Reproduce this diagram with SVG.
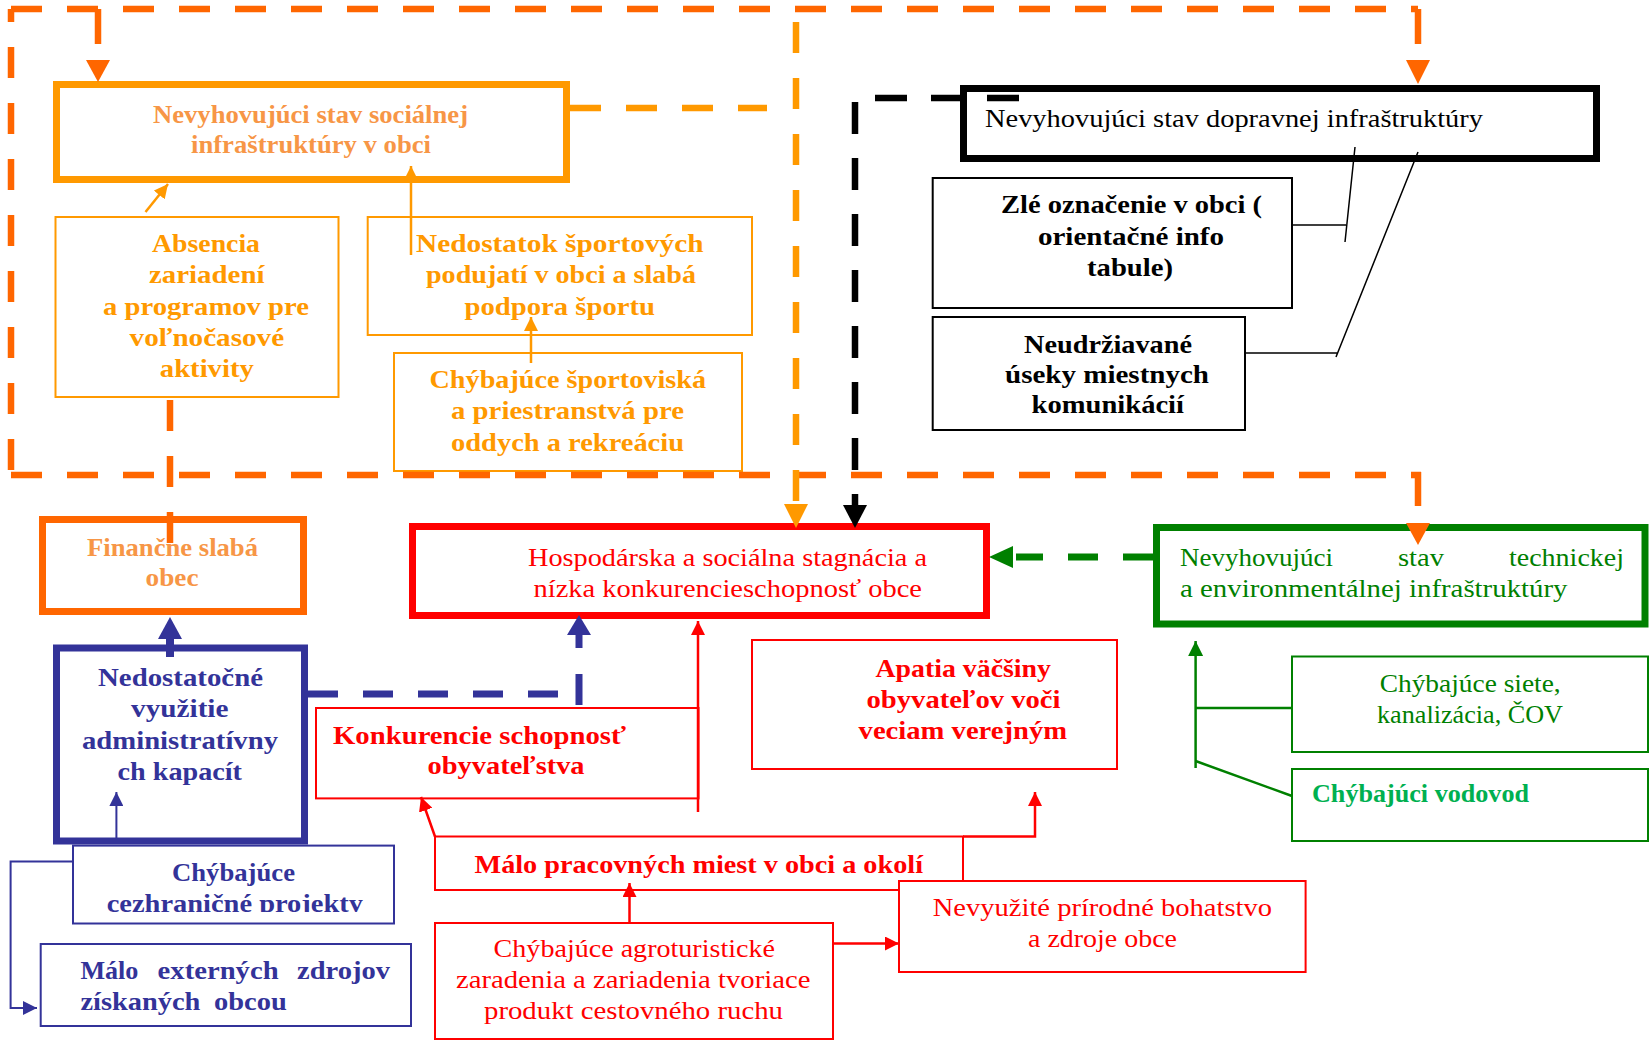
<svg xmlns="http://www.w3.org/2000/svg" width="1650" height="1040" viewBox="0 0 1650 1040">
<style>
text{font-family:'Liberation Serif','Times New Roman',serif;font-size:25px}
.b{font-weight:bold}
rect{fill:#ffffff}
.k7{stroke-width:7}
.k2{stroke-width:2}
.sO{stroke:#FF6600}
.sL{stroke:#FF9900}
.sR{stroke:#FF0000}
.sG{stroke:#008000}
.sB{stroke:#333399}
.sK{stroke:#000000}
.fS{fill:#F79646}
.fL{fill:#FF9900}
.fR{fill:#FF0000}
.fG{fill:#008000}
.fV{fill:#00B050}
.fB{fill:#333399}
.fK{fill:#000000}
.ln{fill:none}
.dO{fill:none;stroke:#FF6600;stroke-width:6.5;stroke-dasharray:31 25}
.dL{fill:none;stroke:#FF9900;stroke-width:6.5;stroke-dasharray:31 25}
</style>
<defs>
<marker id="mR" viewBox="0 0 14 14" refX="14" refY="7" markerWidth="14" markerHeight="14" markerUnits="userSpaceOnUse" orient="auto"><path d="M0,0 L14,7 L0,14 z" fill="#FF0000"/></marker>
<marker id="mG" viewBox="0 0 14 14" refX="14" refY="7" markerWidth="15" markerHeight="15" markerUnits="userSpaceOnUse" orient="auto"><path d="M0,0 L14,7 L0,14 z" fill="#008000"/></marker>
<marker id="mB" viewBox="0 0 14 14" refX="14" refY="7" markerWidth="14" markerHeight="14" markerUnits="userSpaceOnUse" orient="auto"><path d="M0,0 L14,7 L0,14 z" fill="#333399"/></marker>
<marker id="mL" viewBox="0 0 14 14" refX="14" refY="7" markerWidth="14" markerHeight="14" markerUnits="userSpaceOnUse" orient="auto"><path d="M0,0 L14,7 L0,14 z" fill="#FF9900"/></marker>
<clipPath id="clipS"><rect x="73" y="845" width="321" height="67"/></clipPath>
</defs>

<g id="n-social">
<rect class="k7 sL" x="56.5" y="84.5" width="510" height="95"/>
<text class="b fS" x="153" y="123" textLength="315" lengthAdjust="spacingAndGlyphs">Nevyhovujúci stav sociálnej</text>
<text class="b fS" x="191" y="153" textLength="240" lengthAdjust="spacingAndGlyphs">infraštruktúry v obci</text>
</g>

<g id="n-absencia">
<rect class="k2 sL" x="55.5" y="217" width="283" height="180"/>
<text class="b fL" x="152" y="252" textLength="108" lengthAdjust="spacingAndGlyphs">Absencia</text>
<text class="b fL" x="149" y="283" textLength="115.5" lengthAdjust="spacingAndGlyphs">zariadení</text>
<text class="b fL" x="103" y="315" textLength="206" lengthAdjust="spacingAndGlyphs">a programov pre</text>
<text class="b fL" x="129.6" y="346" textLength="154.5" lengthAdjust="spacingAndGlyphs">voľnočasové</text>
<text class="b fL" x="159.8" y="377" textLength="94" lengthAdjust="spacingAndGlyphs">aktivity</text>
</g>

<g id="n-nedostatok">
<rect class="k2 sL" x="367.7" y="217" width="384.3" height="118"/>
<text class="b fL" x="416" y="252" textLength="287.6" lengthAdjust="spacingAndGlyphs">Nedostatok  športových</text>
<text class="b fL" x="426" y="283" textLength="270" lengthAdjust="spacingAndGlyphs">podujatí v obci a slabá</text>
<text class="b fL" x="464.5" y="315" textLength="190.5" lengthAdjust="spacingAndGlyphs">podpora športu</text>
</g>

<g id="n-sportoviska">
<rect class="k2 sL" x="394" y="353" width="348" height="118"/>
<text class="b fL" x="429.5" y="388" textLength="276.5" lengthAdjust="spacingAndGlyphs">Chýbajúce športoviská</text>
<text class="b fL" x="451" y="419" textLength="233" lengthAdjust="spacingAndGlyphs">a priestranstvá pre</text>
<text class="b fL" x="451" y="451" textLength="233" lengthAdjust="spacingAndGlyphs">oddych a rekreáciu</text>
</g>

<g id="n-doprava">
<rect class="k7 sK" x="963.5" y="88.5" width="633" height="70"/>
<text class="fK" x="985" y="127" textLength="498" lengthAdjust="spacingAndGlyphs">Nevyhovujúci stav dopravnej infraštruktúry</text>
</g>

<g id="n-zle">
<rect class="k2 sK" x="932.7" y="178" width="359.3" height="130"/>
<text class="b fK" x="1001" y="213" textLength="261" lengthAdjust="spacingAndGlyphs">Zlé označenie v obci (</text>
<text class="b fK" x="1038" y="245" textLength="186" lengthAdjust="spacingAndGlyphs">orientačné info</text>
<text class="b fK" x="1087" y="276" textLength="86" lengthAdjust="spacingAndGlyphs">tabule)</text>
</g>

<g id="n-neudrz">
<rect class="k2 sK" x="932.7" y="317" width="312.3" height="113"/>
<text class="b fK" x="1024" y="353" textLength="168" lengthAdjust="spacingAndGlyphs">Neudržiavané</text>
<text class="b fK" x="1005" y="383" textLength="204" lengthAdjust="spacingAndGlyphs">úseky miestnych</text>
<text class="b fK" x="1031.6" y="413" textLength="152.4" lengthAdjust="spacingAndGlyphs">komunikácií</text>
</g>

<g id="n-financne">
<rect class="k7 sO" x="42.5" y="519.5" width="261" height="92"/>
<text class="b fS" x="87" y="556" textLength="171" lengthAdjust="spacingAndGlyphs">Finančne slabá</text>
<text class="b fS" x="145.5" y="586" textLength="53" lengthAdjust="spacingAndGlyphs">obec</text>
</g>

<g id="n-stagnacia">
<rect class="k7 sR" x="412.5" y="526.5" width="574" height="89"/>
<text class="fR" x="528" y="566" textLength="399" lengthAdjust="spacingAndGlyphs">Hospodárska a sociálna stagnácia a</text>
<text class="fR" x="533.5" y="597" textLength="388.5" lengthAdjust="spacingAndGlyphs">nízka konkurencieschopnosť obce</text>
</g>

<g id="n-technicka">
<rect class="k7 sG" x="1156.5" y="527.5" width="488.5" height="96.5"/>
<text class="fG" x="1180" y="566" textLength="153" lengthAdjust="spacingAndGlyphs">Nevyhovujúci</text>
<text class="fG" x="1398" y="566" textLength="46" lengthAdjust="spacingAndGlyphs">stav</text>
<text class="fG" x="1509" y="566" textLength="115" lengthAdjust="spacingAndGlyphs">technickej</text>
<text class="fG" x="1180" y="597" textLength="387.5" lengthAdjust="spacingAndGlyphs">a environmentálnej infraštruktúry</text>
</g>

<g id="n-admin">
<rect class="k7 sB" x="56.5" y="648" width="248" height="193"/>
<text class="b fB" x="98" y="686" textLength="165" lengthAdjust="spacingAndGlyphs">Nedostatočné</text>
<text class="b fB" x="131" y="717" textLength="97.5" lengthAdjust="spacingAndGlyphs">využitie</text>
<text class="b fB" x="82" y="749" textLength="196" lengthAdjust="spacingAndGlyphs">administratívny</text>
<text class="b fB" x="117.5" y="780" textLength="124.5" lengthAdjust="spacingAndGlyphs">ch kapacít</text>
</g>

<g id="n-konkurencie">
<rect class="k2 sR" x="316" y="708" width="382.5" height="90.4"/>
<text class="b fR" x="333" y="743.5" textLength="293" lengthAdjust="spacingAndGlyphs">Konkurencie schopnosť</text>
<text class="b fR" x="427.6" y="773.6" textLength="157" lengthAdjust="spacingAndGlyphs">obyvateľstva</text>
</g>

<g id="n-apatia">
<rect class="k2 sR" x="752" y="640" width="365" height="129"/>
<text class="b fR" x="875.5" y="676.5" textLength="175.5" lengthAdjust="spacingAndGlyphs">Apatia väčšiny</text>
<text class="b fR" x="866.5" y="708" textLength="194" lengthAdjust="spacingAndGlyphs">obyvateľov voči</text>
<text class="b fR" x="858.6" y="739" textLength="208.5" lengthAdjust="spacingAndGlyphs">veciam verejným</text>
</g>

<g id="n-malo-miest">
<rect class="k2 sR" x="435" y="836.5" width="528" height="53.5"/>
<text class="b fR" x="474.5" y="872.5" textLength="448.5" lengthAdjust="spacingAndGlyphs">Málo pracovných miest v obci a okolí</text>
</g>

<g id="n-agro">
<rect class="k2 sR" x="435" y="923" width="398" height="116"/>
<text class="fR" x="493.6" y="957" textLength="281.4" lengthAdjust="spacingAndGlyphs">Chýbajúce agroturistické</text>
<text class="fR" x="456" y="988" textLength="354.4" lengthAdjust="spacingAndGlyphs">zaradenia a zariadenia tvoriace</text>
<text class="fR" x="484" y="1019" textLength="299" lengthAdjust="spacingAndGlyphs">produkt cestovného ruchu</text>
</g>

<g id="n-nevyuzite">
<rect class="k2 sR" x="899" y="881" width="406.6" height="91"/>
<text class="fR" x="932.7" y="915.5" textLength="339.3" lengthAdjust="spacingAndGlyphs">Nevyužité prírodné bohatstvo</text>
<text class="fR" x="1028" y="947" textLength="149" lengthAdjust="spacingAndGlyphs">a zdroje obce</text>
</g>

<g id="n-siete">
<rect class="k2 sG" x="1292" y="656.5" width="356" height="95.5"/>
<text class="fG" x="1379.7" y="692" textLength="181" lengthAdjust="spacingAndGlyphs">Chýbajúce siete,</text>
<text class="fG" x="1377" y="723" textLength="186" lengthAdjust="spacingAndGlyphs">kanalizácia, ČOV</text>
</g>

<g id="n-vodovod">
<rect class="k2 sG" x="1292" y="769" width="356" height="72"/>
<text class="b fV" x="1312" y="802" textLength="217" lengthAdjust="spacingAndGlyphs">Chýbajúci vodovod</text>
</g>

<g id="n-cezhranicne">
<rect class="k2 sB" x="73" y="845.6" width="321" height="77.9"/>
<text class="b fB" x="172" y="881" textLength="123" lengthAdjust="spacingAndGlyphs">Chýbajúce</text>
<text class="b fB" x="106.7" y="911.5" textLength="256.3" lengthAdjust="spacingAndGlyphs" clip-path="url(#clipS)">cezhraničné projekty</text>
</g>

<g id="n-externe">
<rect class="k2 sB" x="40.7" y="944" width="370.3" height="82"/>
<text class="b fB" x="80.4" y="979" textLength="58" lengthAdjust="spacingAndGlyphs">Málo</text>
<text class="b fB" x="157.6" y="979" textLength="121" lengthAdjust="spacingAndGlyphs">externých</text>
<text class="b fB" x="297" y="979" textLength="93" lengthAdjust="spacingAndGlyphs">zdrojov</text>
<text class="b fB" x="80.4" y="1010" textLength="120" lengthAdjust="spacingAndGlyphs">získaných</text>
<text class="b fB" x="214" y="1010" textLength="72.7" lengthAdjust="spacingAndGlyphs">obcou</text>
</g>

<g id="connectors">
<!-- black -->
<path class="ln sK" stroke-width="6.5" stroke-dasharray="32 24" stroke-dashoffset="-3" d="M1022,98 H855 V471"/>
<path class="ln sK" stroke-width="6.5" d="M855,494 V507"/>
<polygon class="fK" points="843,505 867,505 855,528"/>
<path class="ln sK" stroke-width="1.5" d="M1292,225 H1346 M1345,242 L1355,147 M1245,353 H1337 M1336,357 L1418,152"/>

<!-- outer dark orange dashed loop -->
<path class="dO" d="M11,9 H1418"/>
<path class="dO" d="M11,9 V475" stroke-dashoffset="18"/>
<path class="dO" d="M11,475 H1421"/>
<path class="ln sO" stroke-width="6.5" d="M98,9 V44"/>
<polygon style="fill:#FF6600" points="86,60 110,60 98,82"/>
<path class="ln sO" stroke-width="6.5" d="M1418,9 V44"/>
<polygon style="fill:#FF6600" points="1406,60 1430,60 1418,84"/>
<path class="ln sO" stroke-width="6.5" d="M1418,472 V506"/>
<polygon style="fill:#FF6600" points="1406,523 1430,523 1418,545"/>
<path class="dO" d="M170,400 V545"/>

<!-- light orange -->
<path class="dL" d="M570,108 H767"/>
<path class="dL" d="M796,22 V501"/>
<polygon style="fill:#FF9900" points="784,504 808,504 796,528"/>
<path class="ln sL" stroke-width="2.5" d="M145.5,212 L168,184" marker-end="url(#mL)"/>
<path class="ln sL" stroke-width="2.5" d="M411,255 V166" marker-end="url(#mL)"/>
<path class="ln sL" stroke-width="2.5" d="M531,363 V317" marker-end="url(#mL)"/>

<!-- green -->
<path class="ln sG" stroke-width="7" stroke-dasharray="30 25" d="M1153,557 H1016"/>
<polygon class="fG" points="1013,546 1013,568 989,557"/>
<path class="ln sG" stroke-width="2.5" d="M1195.6,768 V641" marker-end="url(#mG)"/>
<path class="ln sG" stroke-width="2.5" d="M1195.6,708 H1292 M1195.6,761 L1292,796"/>

<!-- blue -->
<path class="ln sB" stroke-width="8" d="M170,657 V637"/>
<polygon class="fB" points="158,639 182,639 170,617"/>
<path class="ln sB" stroke-width="7" stroke-dasharray="30 25" d="M308,694 H560"/>
<path class="ln sB" stroke-width="7" d="M579,705 V674 M579,648 V633"/>
<polygon class="fB" points="567,635 591,635 579,615"/>
<path class="ln sB" stroke-width="2" d="M116.4,839 V792" marker-end="url(#mB)"/>
<path class="ln sB" stroke-width="2" d="M73,861.6 H10.6 V1008 H37" marker-end="url(#mB)"/>

<!-- red -->
<path class="ln sR" stroke-width="2.5" d="M698,812 V621" marker-end="url(#mR)"/>
<path class="ln sR" stroke-width="2.5" d="M435,836.5 L421,797" marker-end="url(#mR)"/>
<path class="ln sR" stroke-width="2.5" d="M963,836.5 H1035 V792" marker-end="url(#mR)"/>
<path class="ln sR" stroke-width="2.5" d="M629.5,923 V883" marker-end="url(#mR)"/>
<path class="ln sR" stroke-width="2.5" d="M833,943.5 H899" marker-end="url(#mR)"/>
</g>
</svg>
